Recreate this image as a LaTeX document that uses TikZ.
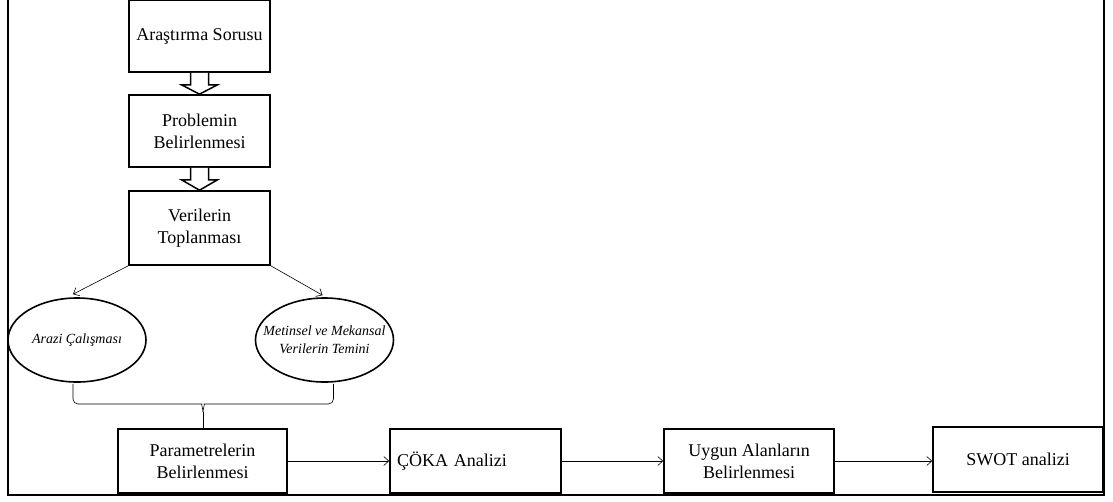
\documentclass[tikz,border=0pt]{standalone}
\usepackage{fontspec}
\setmainfont{Liberation Serif}
\usetikzlibrary{shapes.geometric,arrows.meta,calc}
\begin{document}
\begin{tikzpicture}[x=1pt,y=-1pt,
  box/.style={draw,line width=1.6pt,fill=white,align=center,inner sep=2pt,
    font=\fontsize{18}{22}\selectfont},
  oval/.style={draw,ellipse,line width=1.6pt,fill=white,align=center,inner xsep=-15pt,inner ysep=0pt,
    minimum width=138pt,minimum height=84pt,font=\fontsize{14}{18}\selectfont\itshape},
  conn/.style={-{Straight Barb[length=5pt,width=9pt]},line width=0.6pt},
  blockarrow/.style={line width=1.5pt,fill=white,line join=miter}]
\fill[white] (0,0) rectangle (1113,501);
\path[use as bounding box] (0,0) rectangle (1113,501);
% frame
\draw[line width=1.6pt] (8,-2) -- (8,495) -- (1104,495) -- (1104,-2);
% column boxes
\node[box,minimum width=141pt,minimum height=72pt] (A) at (199.5,36) {Araştırma Sorusu};
\node[box,minimum width=141pt,minimum height=72pt] (B) at (199.5,131) {Problemin\\Belirlenmesi};
\node[box,minimum width=141pt,minimum height=74pt] (C) at (199.5,228) {Verilerin\\Toplanması};
% block arrows
\foreach \a/\b in {A/B,B/C}{
  \draw[blockarrow] ($(\a.south)+(-9,0)$) -- ($(\a.south)+(-9,12)$) -- ($(\a.south)+(-18,12)$)
    -- (\b.north) -- ($(\a.south)+(18,12)$) -- ($(\a.south)+(9,12)$) -- ($(\a.south)+(9,0)$);
}
% ellipses
\node[oval] (E1) at (77,340) {Arazi Çalışması};
\node[oval] (E2) at (324.5,340) {Metinsel ve Mekansal\\Verilerin Temini};
\draw[conn] (C.south west) -- ($(E1.north)+(-4,-3)$);
\draw[conn] (C.south east) -- ($(E2.north)+(-2,-2)$);
% bottom row
\node[box,minimum width=169pt,minimum height=64pt] (D) at (202.5,461) {Parametrelerin\\Belirlenmesi};
\node[box,minimum width=171pt,minimum height=64pt,text width=157pt,inner xsep=7pt,align=left] (E) at (475.5,461) {ÇÖKA Analizi};
\node[box,minimum width=170pt,minimum height=64pt] (F) at (749,461) {Uygun Alanların\\Belirlenmesi};
\node[box,minimum width=170pt,minimum height=65pt] (G) at (1018,459.5) {SWOT analizi};
% brace
\coordinate (bl) at ($(E1.south)+(-4,1)$);
\coordinate (br) at ($(E2.south)+(9,1)$);
\coordinate (tip) at (203,412);
\draw[line width=0.6pt,rounded corners=5pt] (bl) -- (bl |- 0,404) -- (197,404) to[out=0,in=90] (tip);
\draw[line width=0.6pt,rounded corners=5pt] (br) -- (br |- 0,404) -- (209,404) to[out=180,in=90] (tip);
\draw[line width=0.6pt] (tip) -- (tip |- D.north);
% horizontal connectors
\draw[conn] (D.east) -- (E.west);
\draw[conn] (E.east) -- (F.west);
\draw[conn] (F.east) -- (G.west |- F.east);
\end{tikzpicture}
\end{document}
